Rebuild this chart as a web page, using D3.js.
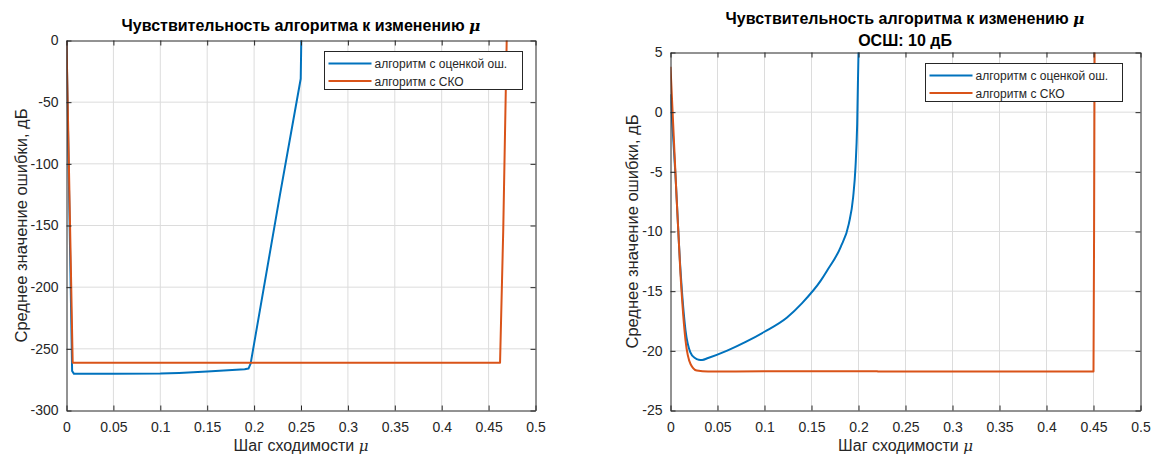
<!DOCTYPE html>
<html>
<head>
<meta charset="utf-8">
<script src="https://cdn.jsdelivr.net/npm/d3@7"></script>
<style>
  body { margin: 0; background: #fff; }
  svg { display: block; font-family: "Liberation Sans", Arial, sans-serif; }
</style>
</head>
<body>
<svg id="chart" width="1153" height="455"></svg>
<script>
// ── Data ─────────────────────────────────────────────────────────────────────
const titleMain = 'Чувствительность алгоритма к изменению ';
const subtitleRight = 'ОСШ: 10 дБ';
const yLabel = 'Среднее значение ошибки, дБ';
const xLabel = 'Шаг сходимости ';
const legendNames = ['алгоритм с оценкой ош.', 'алгоритм с СКО'];

const xTicks = [0, 0.05, 0.1, 0.15, 0.2, 0.25, 0.3, 0.35, 0.4, 0.45, 0.5];
const yTicksLeft = [0, -50, -100, -150, -200, -250, -300];
const yTicksRight = [5, 0, -5, -10, -15, -20, -25];

// left plot, blue (error estimate)
const leftBlueMu  = [0, 0.006, 0.008, 0.05, 0.1, 0.12, 0.15, 0.19, 0.194, 0.1963, 0.2276, 0.2497, 0.2505];
const leftBlueVal = [0, -268, -270.3, -270.3, -270, -269.5, -268.3, -266.6, -266, -262, -125, -31, 10];
// left plot, orange (MSE)
const leftRedMu  = [0, 0.0066, 0.1, 0.3, 0.4622, 0.4656, 0.4693, 0.4700];
const leftRedVal = [0, -261.2, -261.2, -261.2, -261.2, -154, 0, 10];

// right plot, blue
const rightBlueMu  = [0, 0.005, 0.0106, 0.016, 0.021, 0.026, 0.030, 0.0337, 0.04, 0.0603, 0.08, 0.1, 0.124, 0.14, 0.16, 0.1667, 0.181, 0.1897, 0.1943, 0.1968, 0.1986, 0.2000, 0.2005];
const rightBlueVal = [1.5, -4.9, -13.2, -18.3, -20.1, -20.6, -20.74, -20.76, -20.6, -19.98, -19.25, -18.4, -17.2, -16.0, -14.1, -13.27, -11.3, -9.36, -7.13, -4.6, -0.98, 5, 6];
// right plot, orange
const rightRedMu  = [0, 0.0053, 0.0106, 0.016, 0.0213, 0.028, 0.04, 0.1, 0.22, 0.221, 0.35, 0.4500, 0.4508, 0.4512];
const rightRedVal = [3.8, -5.17, -13.55, -19.14, -21.1, -21.65, -21.74, -21.72, -21.72, -21.74, -21.74, -21.74, -5, 6];

// ── Drawing ──────────────────────────────────────────────────────────────────
const svg = d3.select('#chart');
const axisColor = '#262626';
const gridColor = '#dcdcdc';
const blue = '#0072BD';
const red = '#D95319';

function drawPanel(opts) {
  const { x0, x1, y0, y1, yDomain, yTicks, series, legend, id, ylabelX, curve } = opts;
  const x = d3.scaleLinear().domain([0, 0.5]).range([x0, x1]);
  const y = d3.scaleLinear().domain(yDomain).range([y1, y0]);

  const g = svg.append('g');

  // grid
  g.selectAll('.gx').data(xTicks.slice(1, -1)).join('line')
    .attr('x1', d => x(d)).attr('x2', d => x(d))
    .attr('y1', y0).attr('y2', y1)
    .attr('stroke', gridColor).attr('stroke-width', 1);
  g.selectAll('.gy').data(yTicks.slice(1, -1)).join('line')
    .attr('x1', x0).attr('x2', x1)
    .attr('y1', d => y(d)).attr('y2', d => y(d))
    .attr('stroke', gridColor).attr('stroke-width', 1);

  // clip
  svg.append('clipPath').attr('id', id)
    .append('rect').attr('x', x0).attr('y', y0).attr('width', x1 - x0).attr('height', y1 - y0);

  const line = d3.line().x(d => x(d[0])).y(d => y(d[1])).curve(curve);
  for (const s of series) {
    g.append('path')
      .attr('d', line(d3.zip(s.mu, s.val)))
      .attr('fill', 'none')
      .attr('stroke', s.color)
      .attr('stroke-width', 2)
      .attr('stroke-linejoin', 'round')
      .attr('clip-path', `url(#${id})`);
  }

  // axes (ticks inward, box on)
  const tickLen = 5;
  const bottom = d3.axisBottom(x).tickValues(xTicks).tickSizeInner(-tickLen).tickSizeOuter(0)
    .tickPadding(12).tickFormat(d => String(d));
  const left = d3.axisLeft(y).tickValues(yTicks).tickSizeInner(-tickLen).tickSizeOuter(0)
    .tickPadding(8).tickFormat(d => String(d));
  const top = d3.axisTop(x).tickValues(xTicks).tickSizeInner(-tickLen).tickSizeOuter(0).tickFormat('');
  const right = d3.axisRight(y).tickValues(yTicks).tickSizeInner(-tickLen).tickSizeOuter(0).tickFormat('');

  const styleAxis = sel => {
    sel.select('.domain').attr('stroke', axisColor);
    sel.selectAll('.tick line').attr('stroke', axisColor);
    sel.selectAll('.tick text').attr('fill', axisColor).attr('font-size', 14)
      .attr('font-family', '"Liberation Sans", Arial, sans-serif');
  };
  g.append('g').attr('transform', `translate(0,${y1})`).call(bottom).call(styleAxis);
  g.append('g').attr('transform', `translate(${x0},0)`).call(left).call(styleAxis);
  g.append('g').attr('transform', `translate(0,${y0})`).call(top).call(styleAxis);
  g.append('g').attr('transform', `translate(${x1},0)`).call(right).call(styleAxis);

  // x label
  const xl = g.append('text')
    .attr('x', (x0 + x1) / 2).attr('y', 451)
    .attr('text-anchor', 'middle').attr('font-size', 16).attr('fill', axisColor);
  xl.append('tspan').text(xLabel);
  xl.append('tspan').attr('font-style', 'italic').attr('font-family', '"DejaVu Serif", serif').attr('font-size', 15).text('μ');

  // y label
  g.append('text')
    .attr('transform', `translate(${ylabelX},${(y0 + y1) / 2}) rotate(-90)`)
    .attr('text-anchor', 'middle').attr('font-size', 16.5).attr('fill', axisColor)
    .text(yLabel);

  // legend
  const lg = g.append('g');
  lg.append('rect')
    .attr('x', legend.x).attr('y', legend.y).attr('width', legend.w).attr('height', legend.h)
    .attr('fill', '#fff').attr('stroke', axisColor).attr('stroke-width', 1);
  series.forEach((s, i) => {
    const ly = legend.y + 12 + i * 17.5;
    lg.append('line')
      .attr('x1', legend.x + 4).attr('x2', legend.x + 47)
      .attr('y1', ly).attr('y2', ly)
      .attr('stroke', s.color).attr('stroke-width', 2);
    lg.append('text')
      .attr('x', legend.x + 50).attr('y', ly + 4.5)
      .attr('font-size', 12).attr('fill', axisColor)
      .text(legendNames[i]);
  });

  return { x, y, g };
}

function titleLine(g, cx, yy, str, withMu) {
  const t = g.append('text')
    .attr('x', cx).attr('y', yy)
    .attr('text-anchor', 'middle').attr('font-size', 16).attr('font-weight', 'bold').attr('fill', '#000');
  t.append('tspan').text(str);
  if (withMu) {
    t.append('tspan').attr('font-style', 'italic').attr('font-family', '"DejaVu Serif", serif').attr('font-size', 15.5).text('μ');
  }
}

const pL = drawPanel({
  id: 'clipL', x0: 66.5, x1: 535.5, y0: 40.5, y1: 410.5,
  yDomain: [-300, 0], yTicks: yTicksLeft, ylabelX: 27, curve: d3.curveLinear,
  series: [
    { mu: leftBlueMu, val: leftBlueVal, color: blue },
    { mu: leftRedMu, val: leftRedVal, color: red }
  ],
  legend: { x: 324.5, y: 51.5, w: 198, h: 38 }
});
titleLine(pL.g, 301, 31, titleMain, true);

const pR = drawPanel({
  id: 'clipR', x0: 670.5, x1: 1140.5, y0: 52.5, y1: 410.5,
  yDomain: [-25, 5], yTicks: yTicksRight, ylabelX: 638, curve: d3.curveMonotoneX,
  series: [
    { mu: rightBlueMu, val: rightBlueVal, color: blue },
    { mu: rightRedMu, val: rightRedVal, color: red }
  ],
  legend: { x: 925.5, y: 63.5, w: 197, h: 38 }
});
titleLine(pR.g, 905, 24, titleMain, true);
titleLine(pR.g, 905, 46, subtitleRight, false);
</script>
</body>
</html>
